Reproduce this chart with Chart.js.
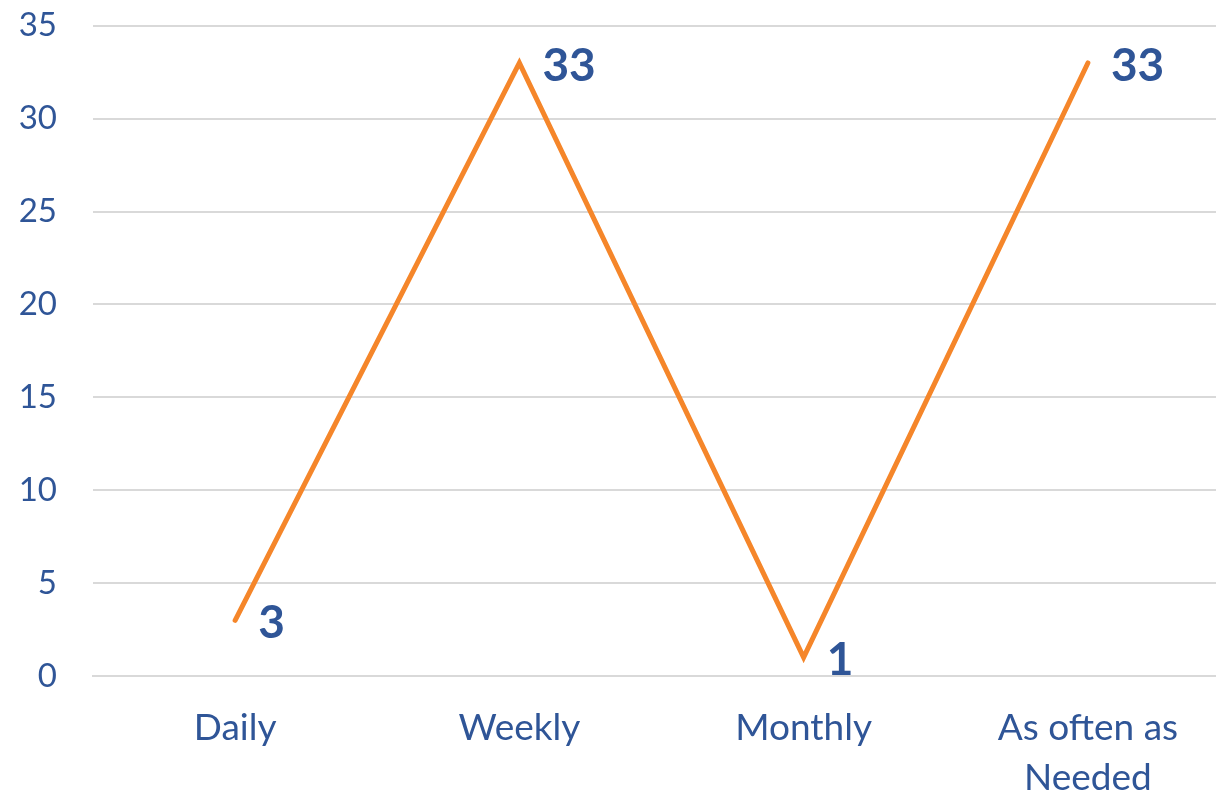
<!DOCTYPE html>
<html>
<head>
<meta charset="utf-8">
<script src="https://cdn.jsdelivr.net/npm/chart.js@4.4.0/dist/chart.umd.min.js"></script>
<style>
  html, body { margin: 0; padding: 0; background: #fff; overflow: hidden; }
  #wrap { width: 1230px; height: 830px; margin-top: -30px; }
</style>
</head>
<body>
<div id="wrap"><canvas id="chart"></canvas></div>
<script>
const categories = ['Daily', 'Weekly', 'Monthly', ['As often as', 'Needed']]
const counts = [3, 33, 1, 33]
const yTicks = [0, 5, 10, 15, 20, 25, 30, 35]

const textColor = '#2F5597'
const lineColor = '#F5862A'
const fontFamily = 'Lato, "Open Sans", sans-serif'

// draws the value next to every point (no datalabels plugin here)
const valueLabels = {
  id: 'valueLabels',
  afterDatasetsDraw(chart) {
    const ctx = chart.ctx
    const meta = chart.getDatasetMeta(0)
    ctx.save()
    ctx.font = `bold 46px ${fontFamily}`
    ctx.fillStyle = textColor
    ctx.textAlign = 'left'
    ctx.textBaseline = 'middle'
    meta.data.forEach((pt, i) => {
      ctx.fillText(String(counts[i]), pt.x + 23, pt.y + 3)
    })
    ctx.restore()
  }
}

const ctx = document.getElementById('chart').getContext('2d')
new Chart(ctx, {
  type: 'line',
  data: {
    labels: categories,
    datasets: [{
      label: 'Count',
      data: counts,
      borderColor: lineColor,
      borderWidth: 5,
      borderCapStyle: 'round',
      borderJoinStyle: 'miter',
      pointRadius: 0,
      tension: 0,
      fill: false
    }]
  },
  options: {
    responsive: true,
    maintainAspectRatio: false,
    animation: false,
    layout: { padding: { top: 0, right: 0, bottom: 0, left: 0 } },
    plugins: {
      legend: { display: false },
      tooltip: { enabled: false }
    },
    scales: {
      x: {
        offset: true,
        grid: { display: false, drawTicks: false },
        border: { display: true, color: '#D9D9D9', width: 2 },
        ticks: {
          color: textColor,
          padding: 27,
          maxRotation: 0,
          autoSkip: false,
          font: { family: fontFamily, size: 37, lineHeight: 1.36 }
        },
        afterFit: s => { s.height = 124 }
      },
      y: {
        min: 0,
        max: 35,
        afterBuildTicks: s => { s.ticks = yTicks.map(v => ({ value: v })) },
        grid: { color: '#D9D9D9', lineWidth: 2, drawTicks: false },
        border: { display: false },
        ticks: {
          color: textColor,
          padding: 36,
          font: { family: fontFamily, size: 33 }
        },
        afterFit: s => { s.width = 93 }
      }
    }
  },
  plugins: [valueLabels]
})
</script>
</body>
</html>
